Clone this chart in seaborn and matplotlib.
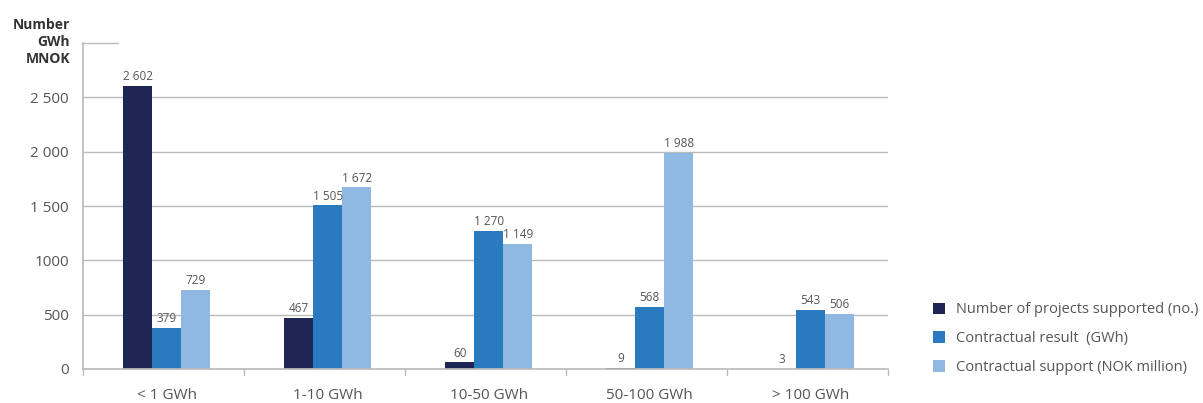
import matplotlib
matplotlib.use("Agg")
import matplotlib.pyplot as plt
import seaborn as sns
import pandas as pd

categories = ["< 1 GWh", "1-10 GWh", "10-50 GWh", "50-100 GWh", "> 100 GWh"]
series_names = ["Number of projects supported (no.)",
                "Contractual result  (GWh)",
                "Contractual support (NOK million)"]
projects = [2602, 467, 60, 9, 3]
result_gwh = [379, 1505, 1270, 568, 543]
support_mnok = [729, 1672, 1149, 1988, 506]
y_ticks = [0, 500, 1000, 1500, 2000, 2500]
y_tick_labels = ["0", "500", "1000", "1 500", "2 000", "2 500"]
colors = ["#1E2656", "#2A7ABF", "#8FB8E2"]


def fmt(v):
    return f"{v:,}".replace(",", " ")


rows = []
for name, vals in zip(series_names, [projects, result_gwh, support_mnok]):
    for c, v in zip(categories, vals):
        rows.append({"cat": c, "series": name, "value": v})
df = pd.DataFrame(rows)

sns.set_theme(style="white")
plt.rcParams["font.family"] = ["Open Sans", "DejaVu Sans"]
txt = "#555555"
grid = "#BBBBBB"

fig = plt.figure(figsize=(12.03, 4.03), dpi=100)
ax = fig.add_axes([83 / 1203, 1 - 369 / 403, 805 / 1203, (369 - 43) / 403])

sns.barplot(data=df, x="cat", y="value", hue="series", order=categories,
            hue_order=series_names, palette=colors, width=0.54,
            saturation=1, ax=ax, legend=True, linewidth=0, edgecolor="none")

ax.set_ylim(0, 3000)
ax.set_xlim(-0.52, len(categories) - 0.52)
ax.set_yticks(y_ticks)
ax.set_yticklabels(y_tick_labels, color=txt, fontsize=11)
ax.tick_params(axis="y", length=0, pad=10)
ax.tick_params(axis="x", length=0, pad=14, labelsize=11, labelcolor=txt)
for y in y_ticks[1:]:
    ax.axhline(y, color=grid, lw=1, zorder=0)
ax.plot([0, 0.044], [3000, 3000], transform=ax.get_yaxis_transform(),
        color=grid, lw=1, clip_on=False)
for x in [i - 0.52 for i in range(len(categories) + 1)]:
    ax.plot([x, x], [0, -55], color=grid, lw=1, clip_on=False)

for s in ["top", "right"]:
    ax.spines[s].set_visible(False)
ax.spines["left"].set_color(grid)
ax.spines["bottom"].set_color(grid)
ax.set_xlabel("")
ax.set_ylabel("")

for cont in ax.containers:
    labels = [fmt(int(round(b.get_height()))) for b in cont]
    ax.bar_label(cont, labels=labels, padding=2, fontsize=8.5, color=txt)

fig.text(70 / 1203, 1 - 42 / 403, "Number\nGWh\nMNOK", ha="right", va="center",
         fontsize=10, fontweight="bold", color="#333333", linespacing=1.3)

handles, labels = ax.get_legend_handles_labels()
ax.legend(handles, labels, loc="lower left", bbox_to_anchor=(927 / 1203, 22 / 403),
          bbox_transform=fig.transFigure, frameon=False, fontsize=10.5,
          labelcolor=txt, handlelength=0.85, handleheight=0.85, handletextpad=0.75,
          labelspacing=0.95, borderaxespad=0)

fig.savefig("out.png", dpi=100)
